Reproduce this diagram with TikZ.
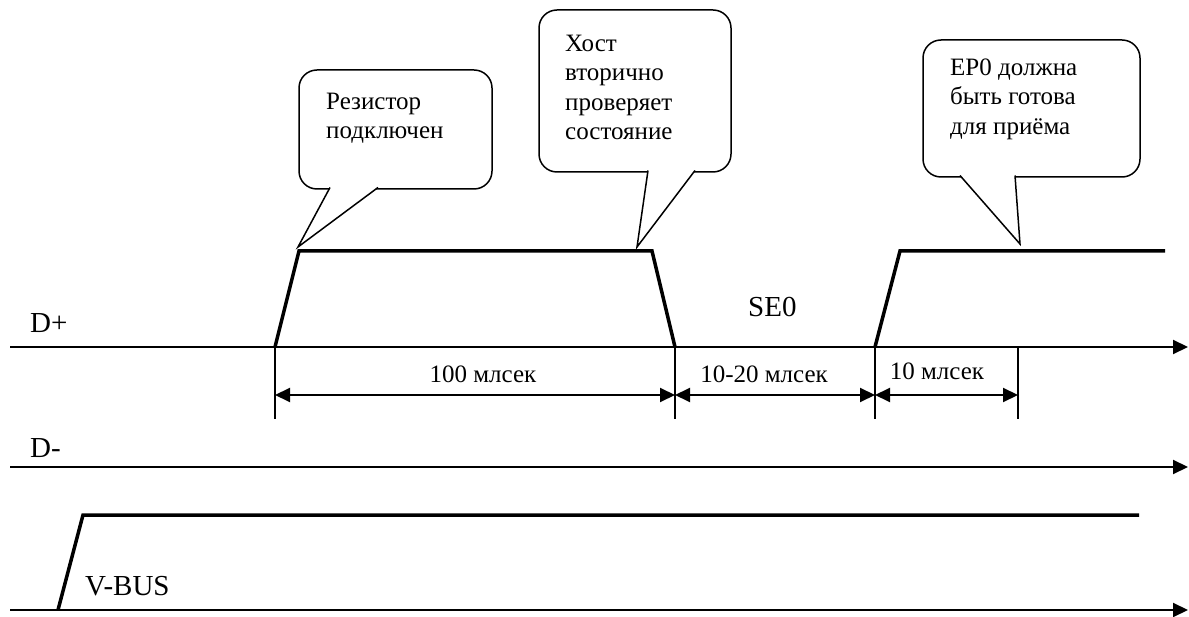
\documentclass[tikz,border=0pt]{standalone}
\usepackage{fontspec}
\setmainfont{Liberation Serif}
\usetikzlibrary{arrows.meta}

\begin{document}
\begin{tikzpicture}[x=1pt,y=-1pt,>={Triangle[length=15pt,width=14pt]},
  axis/.style={line width=2pt,->},
  signal/.style={line width=3.5pt,line join=miter},
  bubble/.style={line width=1.5pt,fill=white},
  marker/.style={line width=1.8pt},
  dim/.style={line width=2pt,<->},
  sig/.style={font=\fontsize{29}{34}\selectfont,anchor=base west,inner sep=0pt},
  note/.style={font=\fontsize{25}{29.5}\selectfont,align=left,anchor=north west,inner sep=0pt},
  span/.style={font=\fontsize{25}{30}\selectfont,anchor=base,inner sep=0pt}]
  \useasboundingbox (0,0) rectangle (1189,617);

  % time axes
  \coordinate (dpL) at (10,347);  \coordinate (dpR) at (1188,347);
  \coordinate (dmL) at (10,467);  \coordinate (dmR) at (1188,467);
  \coordinate (vbL) at (10,610);  \coordinate (vbR) at (1188,610);
  \draw[axis] (dpL) -- (dpR);
  \draw[axis] (dmL) -- (dmR);
  \draw[axis] (vbL) -- (vbR);
  \node[sig] (dplus) at (30,333) {D+};
  \node[sig] (dminus) at (30,457) {D-};
  \node[sig] (vbus) at (85,595) {V-BUS};
  \node[sig] (seo) at (748,317) {SE0};

  % D+ and V-BUS levels
  \coordinate (r1a) at (275,347); \coordinate (r1b) at (299,251);
  \coordinate (f1a) at (652,251); \coordinate (f1b) at (675,347);
  \coordinate (r2a) at (875,347); \coordinate (r2b) at (900,251);
  \coordinate (h2) at (1165,251);
  \draw[signal] (r1a) -- (r1b) -- (f1a) -- (f1b);
  \draw[signal] (r2a) -- (r2b) -- (h2);
  \coordinate (vra) at (58,610); \coordinate (vrb) at (83,515);
  \coordinate (vh) at (1139,515);
  \draw[signal] (vra) -- (vrb) -- (vh);

  % timing marks
  \coordinate (m1) at (275,419); \coordinate (m2) at (675,419);
  \coordinate (m3) at (875,419); \coordinate (m4) at (1018,419);
  \coordinate (m4t) at (1018,347);
  \draw[marker] (r1a) -- (m1);
  \draw[marker] (f1b) -- (m2);
  \draw[marker] (r2a) -- (m3);
  \draw[marker] (m4t) -- (m4);
  \draw[dim] (275,395) -- (675,395);
  \draw[dim] (675,395) -- (875,395);
  \draw[dim] (875,395) -- (1018,395);
  \node[span] (t100) at (483,383) {100 млсек};
  \node[span] (t1020) at (764,383) {10-20 млсек};
  \node[span] (t10) at (937,380) {10 млсек};

  % callouts
  \coordinate (tip1) at (298,247);
  \coordinate (tip2) at (637,247);
  \coordinate (tip3) at (1020,244);
  \draw[bubble,rounded corners=18pt] (299,70) rectangle (492,189);
  \draw[bubble] (330,187.5) -- (tip1) -- (378,187.5);
  \draw[bubble,rounded corners=18pt] (539,10) rectangle (731,172);
  \draw[bubble] (648,170.5) -- (tip2) -- (695,170.5);
  \draw[bubble,rounded corners=18pt] (923,40) rectangle (1140,177);
  \draw[bubble] (960,175.5) -- (tip3) -- (1015,175.5);
  \node[note] (resistor) at (326,92.5) {Резистор\\подключен};
  \node[note] (hostcheck) at (565,34.5) {Хост\\вторично\\проверяет\\состояние};
  \node[note] (ep0ready) at (950,58.5) {EP0 должна\\быть готова\\для приёма};
\end{tikzpicture}
\end{document}
